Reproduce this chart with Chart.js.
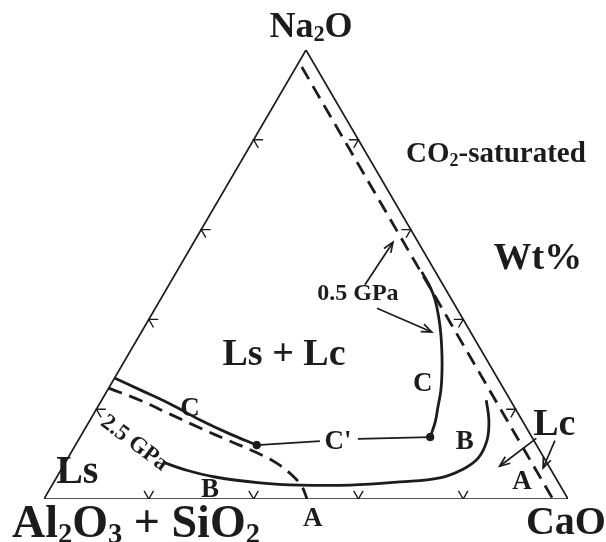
<!DOCTYPE html>
<html>
<head>
<meta charset="utf-8">
<script src="https://cdn.jsdelivr.net/npm/chart.js@4/dist/chart.umd.min.js"></script>
<style>
  body { margin: 0; background: #fff; }
  canvas { display: block; }
</style>
</head>
<body>
<canvas id="chart" width="606" height="542"></canvas>
<script>
// all points are [CaO, Na2O] in wt%, Al2O3 + SiO2 is the rest
const triangle = [[0, 0], [100, 0], [0, 100], [0, 0]];
const tickSteps = [20, 40, 60, 80];

// 0.5 GPa
const dashed05 = [[1.1, 96.2], [97.1, 0]];
const curveC05 = [[46.8, 50.6], [50.1, 47.2], [52.5, 44.3], [55.2, 40.3], [57.5, 36.5], [59.9, 32.1],
  [61.8, 28.3], [63.6, 24.3], [65.0, 20.3], [66.1, 17.1], [66.8, 13.8]];

// 2.5 GPa
const dashed25 = [[0, 24.7], [7.3, 22.0], [14.6, 18.9], [21.9, 15.8], [29.0, 12.9], [35.0, 10.5],
  [40.0, 8.2], [44.7, 5.3], [47.9, 2.7], [50.2, 0]];
const curveC25 = [[0.1, 26.9], [6.2, 24.3], [13.4, 21.2], [21.0, 17.6], [28.2, 14.5], [34.6, 12.0]];
const curveB25 = [[18.6, 8.2], [23.7, 6.5], [30.2, 4.9], [39.4, 3.6], [47.3, 3.1], [56.9, 3.1],
  [66.0, 3.8], [73.2, 4.7], [76.5, 6.5], [78.3, 9.1], [78.0, 13.1], [76.1, 17.6], [73.4, 22.0]];

const cPrimeDots = [[66.8, 13.8], [34.6, 12.0]];
const cPrimeLeaders = [[[53.2, 13.4], [66.8, 13.8]], [[46.2, 12.9], [34.6, 12.0]]];
const gpaArrows = [[[37.4, 47.7], [38.0, 57.2]], [[42.3, 42.5], [55.4, 37.2]]];
const lcArrows = [[[87.2, 13.5], [83.3, 7.3]], [[91.0, 13.0], [91.8, 6.9]]];

const labels = [
  { text: 'Na_2O', at: [-1.85, 105.6], size: 36 },
  { text: 'CO_2-saturated', at: [47.7, 77.1], size: 29 },
  { text: 'Wt%', at: [67.2, 54.1], size: 38 },
  { text: 'Ls + Lc', at: [29.45, 32.7], size: 38 },
  { text: '0.5 GPa', at: [36.85, 46.1], size: 24 },
  { text: 'C', at: [59.25, 26.1], size: 27 },
  { text: 'C', at: [17.6, 20.5], size: 27 },
  { text: "C'", at: [49.55, 13.1], size: 27 },
  { text: 'B', at: [73.75, 13.1], size: 27 },
  { text: 'B', at: [30.45, 2.45], size: 27 },
  { text: 'A', at: [89.1, 4.2], size: 27 },
  { text: 'A', at: [53.3, -4.0], size: 27 },
  { text: 'Lc', at: [88.9, 17.0], size: 38 },
  { text: 'Ls', at: [3.1, 6.5], size: 40 },
  { text: '2.5 GPa', at: [11.05, 12.7], size: 23, rot: 37 },
  { text: 'Al_2O_3 + SiO_2', at: [20.1, -5.1], size: 46 },
  { text: 'CaO', at: [102.05, -4.9], size: 40 }
];

const S3 = Math.sqrt(3) / 2;
const toXY = p => ({ x: p[0] + p[1] / 2, y: p[1] * S3 });
const ink = '#1c1c1c';

function line(points, extra) {
  return Object.assign({
    data: points.map(toXY), showLine: true, pointRadius: 0, borderColor: ink,
    borderWidth: 2.8, fill: false
  }, extra);
}

// chevron ticks on the three edges, opening inward
function tickSet() {
  const arm = 1.8, out = [];
  const edges = [
    { pos: s => [s, 0], a: [60, 120] },
    { pos: s => [0, s], a: [0, -60] },
    { pos: s => [100 - s, s], a: [180, 240] }
  ];
  edges.forEach(e => tickSteps.forEach(s => {
    const c = toXY(e.pos(s));
    const r1 = e.a[0] * Math.PI / 180, r2 = e.a[1] * Math.PI / 180;
    out.push({ x: c.x + arm * Math.cos(r1), y: c.y + arm * Math.sin(r1) }, c,
      { x: c.x + arm * Math.cos(r2), y: c.y + arm * Math.sin(r2) }, { x: null, y: null });
  }));
  return out;
}

const datasets = [
  line(triangle, { borderWidth: 1.7 }),
  { data: tickSet(), showLine: true, spanGaps: false, pointRadius: 0, borderColor: ink, borderWidth: 1.4 },
  line(dashed05, { borderDash: [14, 8] }),
  line(curveC05, { tension: 0.4 }),
  line(dashed25, { borderDash: [14, 8], tension: 0.4 }),
  line(curveC25, { tension: 0.4 }),
  line(curveB25, { tension: 0.4 }),
  { data: cPrimeDots.map(toXY), pointRadius: 3.8, pointBackgroundColor: ink, pointBorderColor: ink }
];
cPrimeLeaders.forEach(l => datasets.push(line(l, { borderWidth: 1.7 })));
gpaArrows.concat(lcArrows).forEach(l => datasets.push(line(l, { borderWidth: 1.7, arrow: true })));

const overlay = {
  id: 'overlay',
  afterDatasetsDraw(chart) {
    const ctx = chart.ctx, xs = chart.scales.x, ys = chart.scales.y;
    const px = p => { const q = toXY(p); return [xs.getPixelForValue(q.x), ys.getPixelForValue(q.y)]; };
    ctx.save();
    ctx.strokeStyle = ink; ctx.fillStyle = ink; ctx.lineWidth = 1.7;
    // open arrow heads
    chart.data.datasets.forEach(d => {
      if (!d.arrow) return;
      const n = d.data.length;
      const a = [xs.getPixelForValue(d.data[n - 2].x), ys.getPixelForValue(d.data[n - 2].y)];
      const b = [xs.getPixelForValue(d.data[n - 1].x), ys.getPixelForValue(d.data[n - 1].y)];
      const ang = Math.atan2(b[1] - a[1], b[0] - a[0]), len = 11, spread = 0.38;
      ctx.beginPath();
      ctx.moveTo(b[0] - len * Math.cos(ang - spread), b[1] - len * Math.sin(ang - spread));
      ctx.lineTo(b[0], b[1]);
      ctx.lineTo(b[0] - len * Math.cos(ang + spread), b[1] - len * Math.sin(ang + spread));
      ctx.stroke();
    });
    // labels with subscripts written as _x
    labels.forEach(l => {
      const [x, y] = px(l.at);
      const parts = [];
      for (let i = 0; i < l.text.length; i++) {
        if (l.text[i] === '_') { parts.push({ t: l.text[i + 1], sub: true }); i++; }
        else parts.push({ t: l.text[i], sub: false });
      }
      const font = s => 'bold ' + s + 'px "Liberation Serif", "DejaVu Serif", serif';
      let w = 0;
      parts.forEach(p => { ctx.font = font(p.sub ? l.size * 0.62 : l.size); p.w = ctx.measureText(p.t).width; w += p.w; });
      ctx.save();
      ctx.translate(x, y);
      if (l.rot) ctx.rotate(l.rot * Math.PI / 180);
      ctx.textBaseline = 'alphabetic';
      let cx = -w / 2;
      const base = l.size * 0.33;
      parts.forEach(p => {
        ctx.font = font(p.sub ? l.size * 0.62 : l.size);
        ctx.fillText(p.t, cx, p.sub ? base + l.size * 0.12 : base);
        cx += p.w;
      });
      ctx.restore();
    });
    ctx.restore();
  }
};

new Chart(document.getElementById('chart'), {
  type: 'scatter',
  data: { datasets },
  options: {
    responsive: false,
    animation: false,
    devicePixelRatio: 1,
    layout: { padding: { left: 44, right: 38, top: 50, bottom: 43 } },
    scales: {
      x: { type: 'linear', min: 0, max: 100, display: false },
      y: { type: 'linear', min: 0, max: 100 * S3, display: false }
    },
    plugins: { legend: { display: false }, tooltip: { enabled: false } }
  },
  plugins: [overlay]
});
</script>
</body>
</html>
